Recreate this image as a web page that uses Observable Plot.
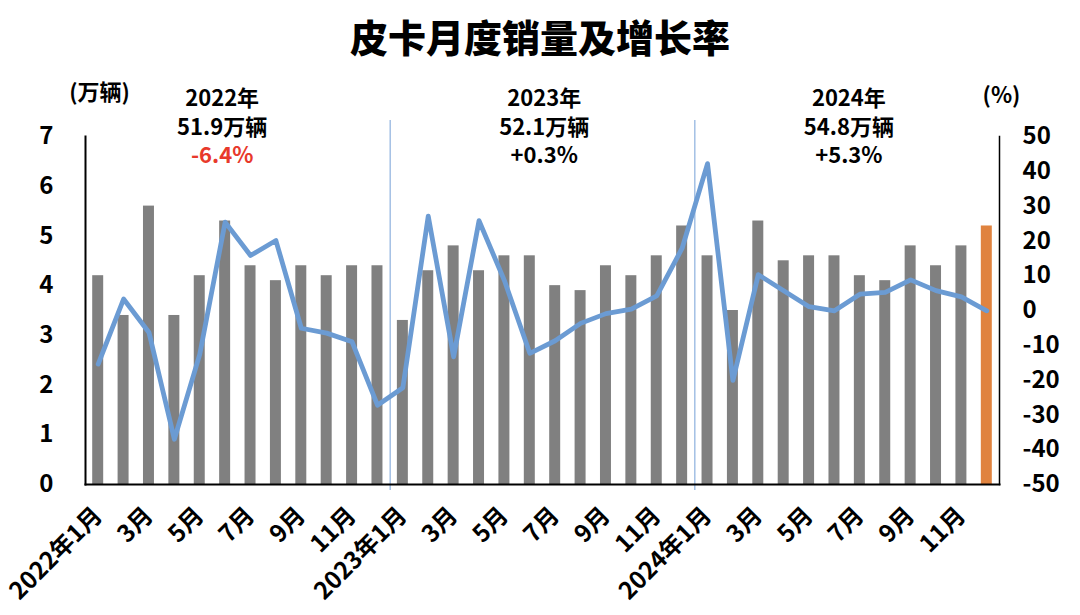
<!DOCTYPE html>
<html><head><meta charset="utf-8">
<script src="https://cdn.jsdelivr.net/npm/d3@7"></script>
<script src="https://cdn.jsdelivr.net/npm/@observablehq/plot@0.6"></script>
<style>
body{margin:0;background:#fff;font-family:"Noto Sans CJK SC","Noto Sans",sans-serif;}
#wrap{position:relative;width:1080px;height:615px;overflow:hidden;}
#title{width:1080px;height:75px;text-align:center;font-size:38px;font-weight:900;line-height:72px;color:#000;}
svg{display:block;}
</style></head>
<body><div id="wrap"><div id="title">皮卡月度销量及增长率</div><div id="chart"></div></div>
<script>
const years = ["2022年", "2023年", "2024年"];
const yearTotals = ["51.9万辆", "52.1万辆", "54.8万辆"];
const yearGrowth = ["-6.4%", "+0.3%", "+5.3%"];
const sales = [4.2,3.4,5.6,3.4,4.2,5.3,4.4,4.1,4.4,4.2,4.4,4.4,
               3.3,4.3,4.8,4.3,4.6,4.6,4.0,3.9,4.4,4.2,4.6,5.2,
               4.6,3.5,5.3,4.5,4.6,4.6,4.2,4.1,4.8,4.4,4.8,5.2];
const growth = [-15.4,3.3,-6.3,-37,-12.6,25.4,15.8,20.1,-5.1,-6.5,-9.0,-27.2,
                -22.2,27.1,-13.3,25.8,8.6,-12.3,-8.7,-3.7,-0.9,0.4,4.2,17.9,
                42.2,-20.1,10.3,5.7,1.1,-0.1,4.7,5.2,8.8,5.7,3.9,-0.1];
const leftTicks = [0,1,2,3,4,5,6,7];
const rightTicks = [-50,-40,-30,-20,-10,0,10,20,30,40,50];
const leftMax = 7, rightMin = -50, rightMax = 50;

const keys = [];
years.forEach((y, yi) => { for (let m = 1; m <= 12; m++) keys.push({key: `${2022+yi}-${String(m).padStart(2,"0")}`, year: 2022+yi, m}); });
const data = keys.map((k, i) => ({...k, i, sales: sales[i], growth: growth[i]}));
const toLeft = g => (g - rightMin) / (rightMax - rightMin) * leftMax;
const fromLeft = v => Math.round(v / leftMax * (rightMax - rightMin) + rightMin);
const labelOf = new Map(data.map(d => [d.key, d.m === 1 ? `${d.year}年1月` : (d.m % 2 === 1 ? `${d.m}月` : "")]));
const annot = years.map((y, i) => ({i, key: `${2022+i}-0${i === 0 ? 6 : 7}`, y, total: yearTotals[i], g: yearGrowth[i], red: yearGrowth[i].startsWith("-")}));
const yearStarts = data.filter(d => d.m === 1 && d.i > 0);

const FONT = '"Noto Sans CJK SC","Noto Sans",sans-serif';
const step = 914 / 36;
function annotMarks(subset, dx) {
  return [
    Plot.text(subset, {x: "key", text: "y", frameAnchor: "top", lineAnchor: "middle", dx, dy: -38, fontSize: 22, fontWeight: "bold", fill: "#000"}),
    Plot.text(subset, {x: "key", text: "total", frameAnchor: "top", lineAnchor: "middle", dx, dy: -9, fontSize: 22, fontWeight: "bold", fill: "#000"}),
    Plot.text(subset, {x: "key", text: "g", frameAnchor: "top", lineAnchor: "middle", dx, dy: 19, fontSize: 22, fontWeight: "bold", fill: d => d.red ? "#e8392b" : "#000"})
  ];
}
const chart = Plot.plot({
  width: 1080, height: 540,
  marginLeft: 85, marginRight: 81, marginTop: 61, marginBottom: 131,
  style: {fontFamily: FONT, fontSize: "23px", fontWeight: "bold", color: "#000", background: "#fff"},
  x: {type: "band", domain: data.map(d => d.key), padding: 0, round: false},
  y: {domain: [0, leftMax], nice: false},
  marks: [
    Plot.barY(data, {x: "key", y: "sales", insetLeft: 7.2, insetRight: 7.2, fill: d => d.i === data.length - 1 ? "#e0833f" : "#808080"}),
    Plot.ruleX(yearStarts, {x: "key", dx: -step / 2, stroke: "#8cb0de", strokeWidth: 1.2, insetTop: -16, insetBottom: -6}),
    Plot.line(data, {x: "key", y: d => toLeft(d.growth), stroke: "#6b9bd3", strokeWidth: 4.8, strokeLinejoin: "round", strokeLinecap: "round"}),
    Plot.frame({anchor: "left", stroke: "#000", strokeWidth: 2}),
    Plot.frame({anchor: "right", stroke: "#000", strokeWidth: 1.5}),
    Plot.frame({anchor: "bottom", stroke: "#000", strokeWidth: 2}),
    Plot.axisY(leftTicks, {anchor: "left", tickSize: 0, tickPadding: 32, tickFormat: d => String(d), fontSize: 24, fontWeight: "bold", label: null}),
    Plot.axisY(rightTicks.map(toLeft), {anchor: "right", tickSize: 0, tickPadding: 23, tickFormat: fromLeft, fontSize: 24, fontWeight: "bold", label: null}),
    Plot.axisX({tickSize: 0, tickPadding: 27, tickRotate: -45, tickFormat: k => labelOf.get(k), fontSize: 24, fontWeight: "bold", label: null}),
    Plot.text(["(万辆)"], {text: d => d, frameAnchor: "top-left", textAnchor: "middle", lineAnchor: "middle", dx: 14, dy: -44, fontSize: 22, fontWeight: "bold"}),
    Plot.text(["(%)"], {text: d => d, frameAnchor: "top-right", textAnchor: "middle", lineAnchor: "middle", dx: 2, dy: -41, fontSize: 22, fontWeight: "bold"}),
    ...annotMarks(annot.filter(d => d.i === 0), -3),
    ...annotMarks(annot.filter(d => d.i > 0), -11)
  ]
});
document.getElementById("chart").appendChild(chart);
</script>
</body></html>
